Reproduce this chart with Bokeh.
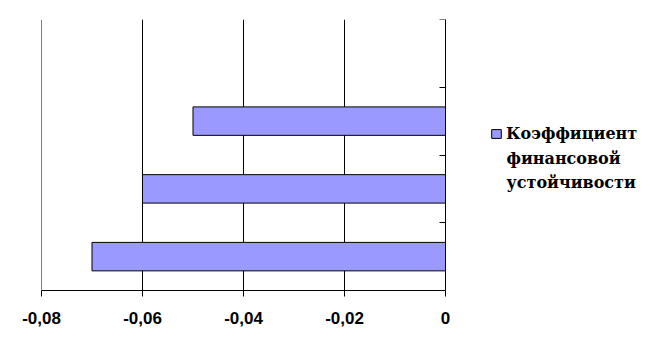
from bokeh.plotting import figure
from bokeh.models import FixedTicker, Legend, LegendItem, Range1d, Span, LinearAxis, Label
from bokeh.embed import file_html
from bokeh.resources import INLINE

# data
positions = [0.5, 1.5, 2.5]
values = [-0.07, -0.06, -0.05]
legend_lines = ["Коэффициент", "финансовой", "устойчивости"]
x_ticks = [-0.08, -0.06, -0.04, -0.02, 0]
x_tick_labels = ["-0,08", "-0,06", "-0,04", "-0,02", "0"]
y_ticks = [0, 1, 2, 3, 4]

# layout (pixels)
W, H = 651, 358
left, top, bottom = 41, 19, 68
zero_px = 445
frame_w = W - left
frame_h = H - top - bottom
ppu = (zero_px - left) / (0 - x_ticks[0])
x_start = x_ticks[0]
x_end = x_start + frame_w / ppu
SERIF = "DejaVu Serif"

def dx(px):
    return x_start + (px - left) / ppu

def dy(py):
    return (top + frame_h - py) / frame_h * 4

p = figure(width=W, height=H, output_backend="svg", toolbar_location=None,
           x_range=Range1d(x_start, x_end), y_range=Range1d(0, 4),
           y_axis_location=None, min_border_left=left, min_border_right=0,
           min_border_top=top, min_border_bottom=bottom)
p.outline_line_color = None
p.background_fill_color = "white"
p.border_fill_color = "white"

r = p.hbar(y=positions, left=values, right=0, height=0.42,
           fill_color="#9999FF", line_color="black", line_width=1)

p.xaxis.ticker = FixedTicker(ticks=x_ticks)
p.xaxis.bounds = (x_ticks[0], x_ticks[-1])
p.xaxis.major_label_overrides = {t: l for t, l in zip(x_ticks, x_tick_labels)}
p.xaxis.major_tick_out = 6
p.xaxis.major_tick_in = 0
p.xaxis.minor_tick_line_color = None
p.xaxis.axis_line_color = "black"
p.xaxis.major_tick_line_color = "black"
p.xaxis.major_label_text_font = "Liberation Sans"
p.xaxis.major_label_text_font_style = "bold"
p.xaxis.major_label_text_font_size = "17px"
p.xaxis.major_label_text_color = "black"
p.xaxis.major_label_standoff = 15

yaxis = LinearAxis(fixed_location=0, ticker=FixedTicker(ticks=y_ticks),
                   major_label_text_font_size="0px", major_label_text_color=None,
                   major_tick_in=0, major_tick_out=6, minor_tick_line_color=None,
                   axis_line_color="black", major_tick_line_color="black")
p.add_layout(yaxis, "left")

p.xgrid.ticker = FixedTicker(ticks=x_ticks)
p.xgrid.grid_line_color = "black"
p.xgrid.grid_line_width = 1
p.ygrid.grid_line_color = None
p.add_layout(Span(location=x_ticks[0], dimension="height", line_color="black", line_width=1))

legend = Legend(items=[LegendItem(label=legend_lines[0], renderers=[r])],
                location=(490 - left, top + frame_h - 143), orientation="vertical",
                padding=0, margin=0, spacing=0,
                glyph_width=12, glyph_height=11, label_height=20, label_standoff=4,
                label_text_font=SERIF, label_text_font_style="bold",
                label_text_font_size="16px", label_text_color="black",
                border_line_color=None, background_fill_alpha=0)
p.add_layout(legend, "center")

for line, base_py in zip(legend_lines[1:], [158, 182]):
    p.add_layout(Label(x=dx(506), y=dy(base_py), text=line, text_baseline="alphabetic",
                       text_font=SERIF, text_font_style="bold",
                       text_font_size="16px", text_color="black"))

open("out.html", "w").write(file_html(p, INLINE))
